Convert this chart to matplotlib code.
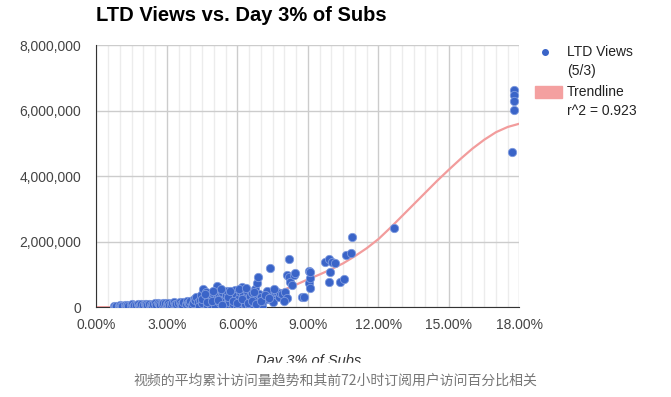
"""
LTD views vs. day-3 % of subs, scatter with trendline
"""
import matplotlib.pyplot as plt
from matplotlib.patches import Rectangle
from matplotlib.ticker import FuncFormatter, MultipleLocator

# day 3 % of subs (percent) and LTD views (millions)
band_x = [0.75, 0.8, 0.85, 0.95, 1.0, 1.05, 1.1, 1.2, 1.25, 1.3, 1.35, 1.45,
          1.5, 1.55, 1.6, 1.7, 1.75, 1.8, 1.85, 1.9, 2.0, 2.05, 2.1, 2.15,
          2.25, 2.3, 2.35, 2.4, 2.5, 2.55, 2.6, 2.65, 2.7, 2.8, 2.85, 2.9, 3.0,
          3.05, 3.1, 3.15, 3.2, 3.3, 3.35, 3.4, 3.45, 3.55, 3.6, 3.65, 3.7,
          3.8, 3.85, 3.9, 3.95, 4.0, 4.05, 4.1, 4.15, 4.2, 4.25, 4.3]
band_y = [0.03, 0.02, 0.05, 0.04, 0.07, 0.03, 0.05, 0.06, 0.04, 0.08, 0.05,
          0.07, 0.09, 0.04, 0.06, 0.08, 0.1, 0.05, 0.07, 0.09, 0.06, 0.11,
          0.1, 0.08, 0.11, 0.07, 0.05, 0.1, 0.12, 0.08, 0.13, 0.11, 0.06, 0.09,
          0.14, 0.12, 0.1, 0.14, 0.07, 0.08, 0.12, 0.15, 0.09, 0.1, 0.13, 0.17,
          0.11, 0.07, 0.15, 0.09, 0.18, 0.12, 0.13, 0.2, 0.08, 0.12, 0.26,
          0.22, 0.32, 0.16]

mid_x = [4.35, 4.4, 4.45, 4.5, 4.55, 4.6, 4.65, 4.7, 4.75, 4.8, 4.85, 4.9, 4.95,
         5.0, 5.05, 5.1, 5.13, 5.2, 5.25, 5.3, 5.35, 5.4, 5.45, 5.5, 5.55, 5.6,
         5.65, 5.7, 5.75, 5.8, 5.85, 5.9, 5.95, 6.0, 6.05, 6.1, 6.15, 6.19, 6.25,
         6.3, 6.35, 6.4, 6.45, 6.5, 6.55, 6.6, 6.65, 6.7, 6.75, 6.83, 6.88, 6.9,
         6.95, 7.0, 7.05, 7.1, 7.26, 7.3, 7.4, 7.45, 7.5, 7.6, 7.68, 7.75, 7.82,
         7.9, 8.04, 8.11, 8.11, 8.18, 8.18, 8.25, 8.32, 8.39, 8.46, 8.75, 8.82,
         9.03, 9.05, 9.1, 9.1, 9.1,
         4.5, 4.7, 4.9, 5.15, 5.35, 5.6, 5.8, 6.0, 6.2, 6.45, 6.6, 6.8, 7.0,
         4.6, 4.95, 5.3, 5.7, 6.05, 6.35, 6.7, 7.15, 7.35, 7.55, 8.0]
mid_y = [0.05, 0.22, 0.38, 0.12, 0.55, 0.3, 0.45, 0.08, 0.2, 0.35, 0.1, 0.28,
         0.42, 0.15, 0.05, 0.25, 0.66, 0.35, 0.12, 0.3, 0.45, 0.2, 0.08, 0.38,
         0.48, 0.25, 0.15, 0.32, 0.42, 0.1, 0.22, 0.53, 0.35, 0.05, 0.28, 0.45,
         0.18, 0.62, 0.38, 0.1, 0.3, 0.48, 0.2, 0.05, 0.35, 0.42, 0.15, 0.28,
         0.55, 0.75, 0.93, 0.4, 0.12, 0.3, 0.05, 0.2, 0.5, 0.25, 1.19, 0.35, 0.15,
         0.45, 0.47, 0.3, 0.42, 0.4, 0.47, 0.27, 0.98, 1.46, 0.93, 0.78, 0.68,
         0.98, 1.03, 0.32, 0.3, 1.11, 0.75, 0.58, 0.88, 1.08,
         0.25, 0.15, 0.18, 0.22, 0.08, 0.3, 0.2, 0.14, 0.26, 0.12, 0.2, 0.1,
         0.18, 0.4, 0.5, 0.55, 0.5, 0.55, 0.58, 0.45, 0.38, 0.28, 0.55, 0.2]

high_x = [9.74, 9.88, 9.88, 9.95, 10.03, 10.17, 10.38, 10.52, 10.6, 10.81, 10.88,
          12.66, 17.77, 17.77, 17.77, 17.77, 17.68]
high_y = [1.39, 1.46, 0.78, 1.08, 1.39, 1.34, 0.78, 0.85, 1.59, 1.65, 2.15,
          2.43, 6.63, 6.46, 6.30, 6.02, 4.75]

# trendline
trend_x = [0, 1, 2, 3, 4, 5, 6, 7, 8, 8.5, 9, 9.5, 10, 10.5, 11, 11.5, 12,
           12.5, 13, 13.5, 14, 14.5, 15, 15.5, 16, 16.5, 17, 17.5, 18]
trend_y = [0.0, 0.0, 0.01, 0.03, 0.06, 0.12, 0.2, 0.33, 0.54, 0.69, 0.85,
           1.0, 1.16, 1.34, 1.56, 1.8, 2.08, 2.42, 2.78, 3.14, 3.5, 3.86,
           4.2, 4.53, 4.84, 5.11, 5.34, 5.5, 5.6]

xs = [v / 100 for v in band_x + mid_x + high_x]
ys = [v * 1e6 for v in band_y + mid_y + high_y]

fig = plt.figure(figsize=(6.71, 3.97), dpi=100)
ax = fig.add_axes([0.1438, 0.2262, 0.6304, 0.6604])

ax.plot([v / 100 for v in trend_x], [v * 1e6 for v in trend_y],
        color='#f29c9c', lw=1.6, zorder=2, solid_capstyle='round',
        solid_joinstyle='round')
ax.scatter(xs, ys, s=36, color='#3a64c8', edgecolors='#7e9ade',
           linewidths=0.6, zorder=3)

ax.set_xlim(0, 0.18)
ax.set_ylim(0, 8e6)
ax.xaxis.set_major_locator(MultipleLocator(0.03))
ax.xaxis.set_minor_locator(MultipleLocator(0.005))
ax.yaxis.set_major_locator(MultipleLocator(2e6))
ax.xaxis.set_major_formatter(FuncFormatter(lambda v, p: '%.2f%%' % (v * 100)))
ax.yaxis.set_major_formatter(FuncFormatter(lambda v, p: format(int(v), ',')))

ax.grid(True, which='major', color='#cccccc', lw=1.0, zorder=0)
ax.grid(True, which='minor', axis='x', color='#ececec', lw=1.0, zorder=0)
ax.set_axisbelow(True)
ax.tick_params(which='both', length=0)
ax.tick_params(axis='x', pad=8, labelsize=10, labelcolor='#444444')
ax.tick_params(axis='y', pad=11, labelsize=10, labelcolor='#444444')
for lab in ax.get_xticklabels() + ax.get_yticklabels():
    lab.set_family('Liberation Sans')

for side in ('top', 'right'):
    ax.spines[side].set_visible(False)
ax.spines['left'].set_color('#333333')
ax.spines['bottom'].set_color('#333333')

fig.text(0.1438, 0.962, 'LTD Views vs. Day 3% of Subs', fontsize=14.5,
         fontweight='bold', family='Liberation Sans', color='#000000',
         va='center', ha='left')

# axis title, its lower part is cut off in the screenshot
fig.text(309 / 671, 1 - 365 / 397, 'Day 3% of Subs', fontsize=10.5,
         style='italic', family='Liberation Sans', color='#333333',
         ha='center', va='baseline')

# legend drawn by hand like the original
fig.lines.append(plt.Line2D([545 / 671], [1 - 52 / 397], marker='o', ms=4,
                            color='#3a64c8', transform=fig.transFigure))
fig.text(567 / 671, 1 - 52 / 397, 'LTD Views', fontsize=10,
         family='Liberation Sans', color='#222222', va='center')
fig.text(567 / 671, 1 - 71 / 397, '(5/3)', fontsize=10,
         family='Liberation Sans', color='#222222', va='center')
fig.patches.append(Rectangle((535 / 671, 1 - 98 / 397), 27 / 671, 12 / 397,
                             color='#f4a0a0', transform=fig.transFigure))
fig.text(567 / 671, 1 - 92 / 397, 'Trendline', fontsize=10,
         family='Liberation Sans', color='#222222', va='center')
fig.text(567 / 671, 1 - 111 / 397, 'r^2 = 0.923', fontsize=10,
         family='Liberation Sans', color='#222222', va='center')

fig.patches.append(Rectangle((0, 0), 1, 34 / 397, color='white', zorder=10,
                             transform=fig.transFigure))
fig.text(0.5, 16 / 397, '视频的平均累计访问量趋势和其前72小时订阅用户访问百分比相关',
         fontsize=10, family=['Noto Sans CJK SC', 'DejaVu Sans'],
         color='#777777', ha='center', va='center', zorder=11)

plt.savefig('out.png', dpi=100)
